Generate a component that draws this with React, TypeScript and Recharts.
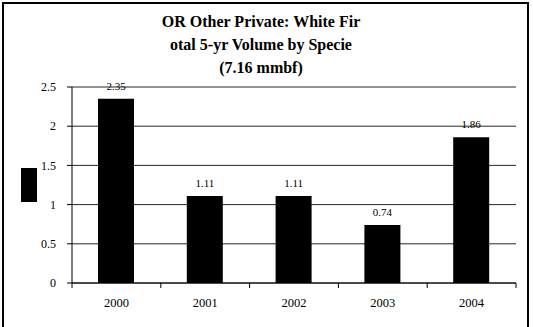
import { BarChart, Bar, XAxis, YAxis, CartesianGrid, Legend, LabelList } from 'recharts';

const years = ['2000', '2001', '2002', '2003', '2004'];
const volumes = [2.35, 1.11, 1.11, 0.74, 1.86];
const yTicks = [0, 0.5, 1, 1.5, 2, 2.5];
const titleLines = ['OR Other Private: White Fir', 'otal 5-yr Volume by Specie', '(7.16 mmbf)'];

const data = years.map((year, i) => ({ year, volume: volumes[i] }));

const font = '"Liberation Serif", "Times New Roman", serif';

const XTick = (props: any) => {
  const { x, y, payload, index } = props;
  const band = 88.8;
  return (
    <g>
      {index === 0 && <line x1={x - band / 2} x2={x - band / 2} y1={y - 8} y2={y - 3} stroke="#000" />}
      <line x1={x + band / 2} x2={x + band / 2} y1={y - 8} y2={y - 3} stroke="#000" />
      <text x={x} y={y + 16} textAnchor="middle" fontSize={12.5} fontFamily={font} fill="#000">
        {payload.value}
      </text>
    </g>
  );
};

export default function App() {
  return (
    <div style={{ position: 'absolute', left: 0, top: 0, width: 533, height: 327, overflow: 'hidden', background: '#fff' }}>
      <div
        style={{
          position: 'absolute',
          left: 2,
          top: 2,
          width: 527,
          height: 360,
          border: '2px solid #000',
          boxSizing: 'border-box',
        }}
      />
      {titleLines.map((t, i) => (
        <div
          key={i}
          style={{
            position: 'absolute',
            left: 0,
            width: 522,
            top: 12 + i * 23,
            textAlign: 'center',
            fontFamily: font,
            fontWeight: 'bold',
            fontSize: 16,
            lineHeight: '19px',
            color: '#000',
          }}
        >
          {t}
        </div>
      ))}
      <BarChart
        width={533}
        height={327}
        data={data}
        margin={{ top: 87, right: 17, bottom: 14, left: 0 }}
        barCategoryGap="30%"
        style={{ position: 'absolute', left: 0, top: 0 }}
      >
        <CartesianGrid vertical={false} stroke="#000" strokeOpacity={0.85} />
        <XAxis
          dataKey="year"
          axisLine={{ stroke: '#000' }}
          tickLine={false}
          tick={<XTick />}
          height={30}
          interval={0}
        />
        <YAxis
          domain={[0, 2.5]}
          ticks={yTicks}
          width={72}
          axisLine={{ stroke: '#000' }}
          tickLine={{ stroke: '#000' }}
          tickSize={5}
          tickMargin={11}
          tick={{ fontSize: 12, fontFamily: font, fill: '#000' }}
        />
        <YAxis
          yAxisId="right"
          orientation="right"
          domain={[0, 2.5]}
          width={0}
          tick={false}
          tickLine={false}
          axisLine={{ stroke: '#000' }}
        />
        <Legend
          layout="horizontal"
          align="center"
          verticalAlign="middle"
          wrapperStyle={{ left: 21, top: 168, width: 16, height: 34 }}
          content={() => <div style={{ width: 16, height: 34, background: '#000' }} />}
        />
        <Bar dataKey="volume" fill="#000" barSize={36} isAnimationActive={false}>
          <LabelList dataKey="volume" position="top" offset={9} fontSize={11} fontFamily={font} fill="#000" />
        </Bar>
      </BarChart>
    </div>
  );
}
